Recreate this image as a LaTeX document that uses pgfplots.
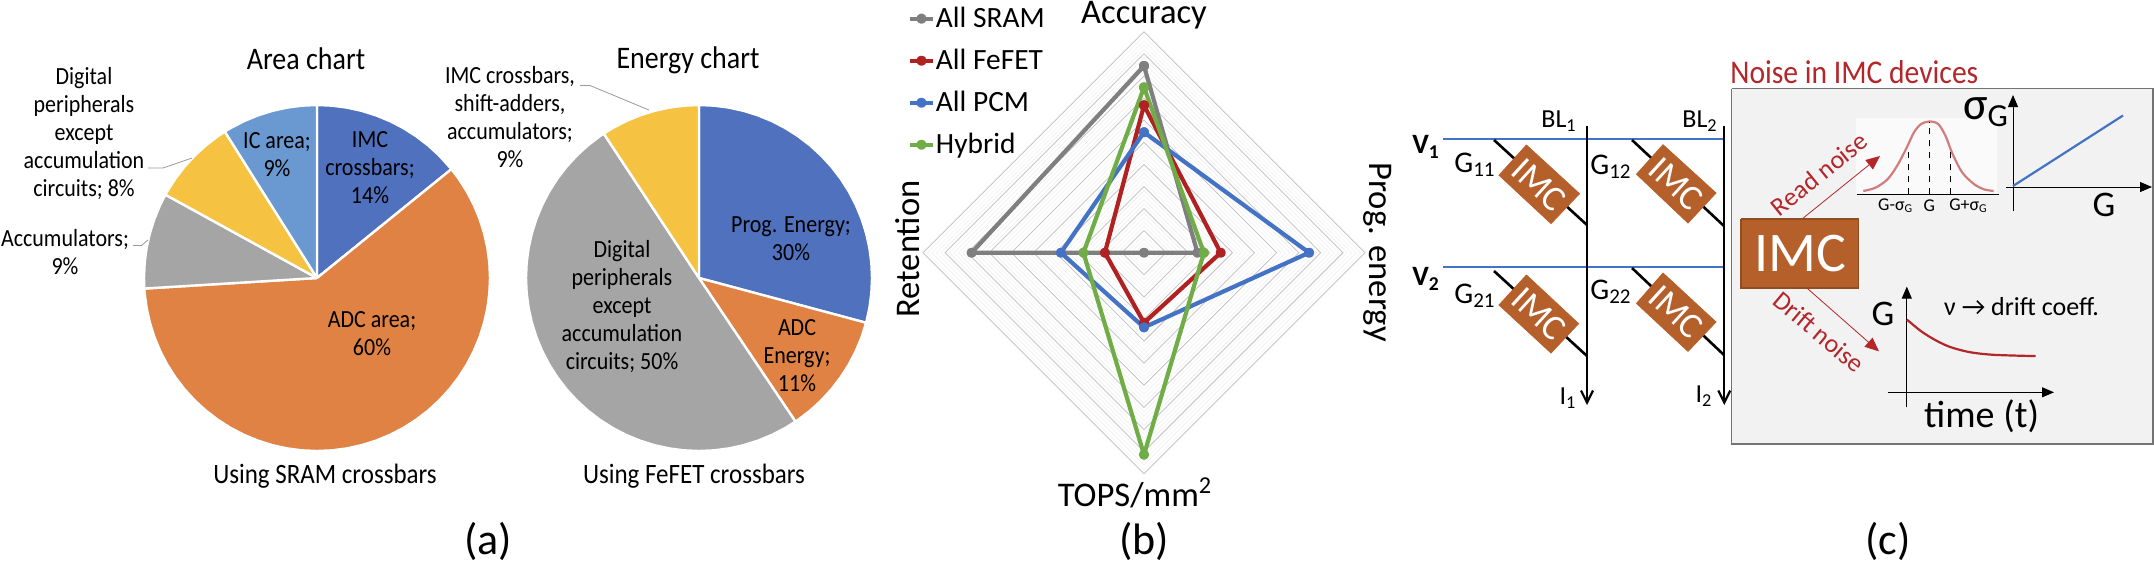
\documentclass[border=0pt]{standalone}
\usepackage{fontspec}
\setmainfont{Carlito}
\usepackage{pgfplots}
\pgfplotsset{compat=1.18}
\usetikzlibrary{arrows.meta}

% 1 pixel of the reference = 0.5pt
\definecolor{pblue}{HTML}{4F71BE}
\definecolor{porange}{HTML}{DF8244}
\definecolor{pgray}{HTML}{A5A5A5}
\definecolor{pyellow}{HTML}{F6C242}
\definecolor{plight}{HTML}{6A98D0}
\definecolor{imc}{HTML}{B5602B}
\definecolor{noisered}{HTML}{B3262A}
\definecolor{rgray}{HTML}{7F7F7F}
\definecolor{rred}{HTML}{B02222}
\definecolor{rblue}{HTML}{4472C4}
\definecolor{rgreen}{HTML}{70AD47}

\pgfplotsset{
  pieaxis/.style={scale only axis,width=173pt,height=173pt,xmin=-173,xmax=173,ymin=-173,ymax=173,
    hide axis,clip=false,anchor=center},
  slice/.style={data cs=polar,fill=#1,draw=white,line width=1.2pt,line join=round},
}
\tikzset{
  lab/.style={font=\fontsize{11}{12.5}\selectfont,align=center,inner sep=0pt,yscale=1.12},
  chart/.style={font=\fontsize{14}{16}\selectfont,inner sep=0pt,yscale=1.12},
  big/.style={font=\fontsize{22}{24}\selectfont,inner sep=0pt},
  radar/.style={font=\fontsize{17.3}{20}\selectfont,inner sep=0pt},
  diag/.style={font=\fontsize{15}{17}\selectfont,inner sep=0pt},
  imclab/.style={font=\fontsize{18}{20}\selectfont,inner sep=0pt,text=white,rotate=-42.5},
  vlab/.style={font=\bfseries\fontsize{14}{16}\selectfont,inner sep=0pt},
  small/.style={font=\fontsize{13}{15}\selectfont,inner sep=0pt},
  tiny/.style={font=\fontsize{9}{10}\selectfont,inner sep=0pt},
  axlab/.style={font=\fontsize{18}{20}\selectfont,inner sep=0pt},
}

\begin{document}
\begin{tikzpicture}
\path[use as bounding box] (0,0) rectangle (1077pt,282pt);

% Area pie, centre (317,278) px
\begin{axis}[pieaxis,at={(158.5pt,143pt)}]
\addplot[slice=pblue] coordinates {(0,0)(90,173)(85,173)(80,173)(75,173)(70,173)(65,173)(60,173)(55,173)(50,173)(45,173)(39,173)(0,0)};
\addplot[slice=porange] coordinates {(0,0)(39,173)(35,173)(30,173)(25,173)(20,173)(15,173)(10,173)(5,173)(0,173)(-5,173)(-10,173)(-15,173)(-20,173)(-25,173)(-30,173)(-35,173)(-40,173)(-45,173)(-50,173)(-55,173)(-60,173)(-65,173)(-70,173)(-75,173)(-80,173)(-85,173)(-90,173)(-95,173)(-100,173)(-105,173)(-110,173)(-115,173)(-120,173)(-125,173)(-130,173)(-135,173)(-140,173)(-145,173)(-150,173)(-155,173)(-160,173)(-165,173)(-170,173)(-175,173)(-176.5,173)(0,0)};
\addplot[slice=pgray] coordinates {(0,0)(183.5,173)(180,173)(175,173)(170,173)(165,173)(160,173)(155,173)(151.2,173)(0,0)};
\addplot[slice=pyellow] coordinates {(0,0)(151.2,173)(150,173)(145,173)(140,173)(135,173)(130,173)(125,173)(122.2,173)(0,0)};
\addplot[slice=plight] coordinates {(0,0)(122.2,173)(120,173)(115,173)(110,173)(105,173)(100,173)(95,173)(90,173)(0,0)};
\end{axis}

% Energy pie, centre (699,278) px
\begin{axis}[pieaxis,at={(349.5pt,143pt)}]
\addplot[slice=pblue] coordinates {(0,0)(90,173)(85,173)(80,173)(75,173)(70,173)(65,173)(60,173)(55,173)(50,173)(45,173)(40,173)(35,173)(30,173)(25,173)(20,173)(15,173)(10,173)(5,173)(0,173)(-5,173)(-10,173)(-15,173)(0,0)};
\addplot[slice=porange] coordinates {(0,0)(-15,173)(-20,173)(-25,173)(-30,173)(-35,173)(-40,173)(-45,173)(-50,173)(-55,173)(-56.1,173)(0,0)};
\addplot[slice=pgray] coordinates {(0,0)(-56.1,173)(-60,173)(-65,173)(-70,173)(-75,173)(-80,173)(-85,173)(-90,173)(-95,173)(-100,173)(-105,173)(-110,173)(-115,173)(-120,173)(-125,173)(-130,173)(-135,173)(-140,173)(-145,173)(-150,173)(-155,173)(-160,173)(-165,173)(-170,173)(-175,173)(-180,173)(-185,173)(-190,173)(-195,173)(-200,173)(-205,173)(-210,173)(-215,173)(-220,173)(-225,173)(-230,173)(-235,173)(-236.6,173)(0,0)};
\addplot[slice=pyellow] coordinates {(0,0)(123.4,173)(120,173)(115,173)(110,173)(105,173)(100,173)(95,173)(90,173)(0,0)};
\end{axis}

% Radar, centre (1144,252.7) px, value 10 = 221 px
\begin{axis}[scale only axis,width=221pt,height=221pt,xmin=-10,xmax=10,ymin=-10,ymax=10,
  hide axis,clip=false,anchor=center,at={(572pt,155.65pt)},
  legend style={draw=none,fill=none,at={(-0.034,1.065)},anchor=north west,inner sep=0pt,outer sep=0pt,
    font=\fontsize{14.7}{16}\selectfont,cells={anchor=west},/tikz/every odd column/.append style={column sep=-1.5pt},row sep=5.3pt},
  legend image code/.code={\draw[mark repeat=2,mark phase=2,#1] plot coordinates {(0cm,0cm)(0.2cm,0cm)(0.4cm,0cm)};}]
\pgfplotsinvokeforeach{0.2,0.4,0.6,0.8,1.2,1.4,1.6,1.8,2.2,2.4,2.6,2.8,3.2,3.4,3.6,3.8,4.2,4.4,4.6,4.8,5.2,5.4,5.6,5.8,6.2,6.4,6.6,6.8,7.2,7.4,7.6,7.8,8.2,8.4,8.6,8.8,9.2,9.4,9.6,9.8}{
  \addplot[forget plot,data cs=polar,draw=black!6,line width=0.3pt] coordinates {(90,#1)(0,#1)(-90,#1)(180,#1)(90,#1)};
}
\pgfplotsinvokeforeach{1,2,3,4,5,6,7,8,9,10}{
  \addplot[forget plot,data cs=polar,draw=black!22,line width=0.45pt] coordinates {(90,#1)(0,#1)(-90,#1)(180,#1)(90,#1)};
}
\addplot[data cs=polar,rgray,line width=2.1pt,mark=*,mark size=1.5pt,line join=round] coordinates {(90,8.45)(0,2.42)(-90,0)(180,7.8)(90,8.45)};
\addlegendentry{All SRAM}
\addplot[data cs=polar,rred,line width=2.1pt,mark=*,mark size=1.5pt,line join=round] coordinates {(90,6.67)(0,3.47)(-90,3.17)(180,1.77)(90,6.67)};
\addlegendentry{All FeFET}
\addplot[data cs=polar,rblue,line width=2.1pt,mark=*,mark size=1.5pt,line join=round] coordinates {(90,5.45)(0,7.47)(-90,3.38)(180,3.76)(90,5.45)};
\addlegendentry{All PCM}
\addplot[data cs=polar,rgreen,line width=2.1pt,mark=*,mark size=1.5pt,line join=round] coordinates {(90,7.48)(0,2.71)(-90,9.14)(180,2.74)(90,7.48)};
\addlegendentry{Hybrid}
\end{axis}

% Everything else in reference pixels
\begin{axis}[scale only axis,width=1077pt,height=282pt,xmin=0,xmax=2154,ymin=0,ymax=564,y dir=reverse,
  hide axis,clip=false,at={(0,0)},anchor=south west]

% labels of (a)
\node[chart] at (axis cs:306,58.5) {Area chart};
\node[chart] at (axis cs:688,60.6) {Energy chart};
\node[lab,font=\fontsize{12.5}{14}\selectfont] at (axis cs:325,476) {Using SRAM crossbars};
\node[lab,font=\fontsize{12.5}{14}\selectfont] at (axis cs:694,476) {Using FeFET crossbars};
\node[lab] at (axis cs:84,134) {Digital\\peripherals\\except\\accumulation\\circuits; 8\%};
\node[lab] at (axis cs:65,252) {Accumulators;\\9\%};
\node[lab] at (axis cs:370,168) {IMC\\crossbars;\\14\%};
\node[lab] at (axis cs:277,155) {IC area;\\9\%};
\node[lab] at (axis cs:372,334) {ADC area;\\60\%};
\node[lab] at (axis cs:510,117) {IMC crossbars,\\shift-adders,\\accumulators;\\9\%};
\node[lab] at (axis cs:791,239) {Prog. Energy;\\30\%};
\node[lab] at (axis cs:797,356) {ADC\\Energy;\\11\%};
\node[lab] at (axis cs:622,307) {Digital\\peripherals\\except\\accumulation\\circuits; 50\%};
\addplot[black!40,line width=0.4pt] coordinates {(148,168)(163,168)(192,158)};
\addplot[black!40,line width=0.4pt] coordinates {(133,245.5)(141.5,245.5)(148,240)};
\addplot[black!40,line width=0.4pt] coordinates {(580,85.5)(590,85.5)(649,110)};

% panel letters
\node[big] at (axis cs:488,541) {(a)};
\node[big] at (axis cs:1144,541) {(b)};
\node[big] at (axis cs:1888,541) {(c)};

% radar axis names
\node[radar] at (axis cs:1144,15) {Accuracy};
\node[radar,rotate=-90] at (axis cs:1378,252) {Prog. energy};
\node[radar] at (axis cs:1135,493) {TOPS/mm\textsuperscript{2}};
\node[radar,rotate=90] at (axis cs:908,249) {Retention};

% grey box of (c)
\addplot[fill=black!5,draw=black!55,line width=0.7pt] coordinates {(1731.6,88.7)(2153,88.7)(2153,444)(1731.6,444)(1731.6,88.7)};
\addplot[fill=black!2,draw=none] coordinates {(1856,118)(1997,118)(1997,194)(1856,194)(1856,118)};
\node[chart,font=\fontsize{14.8}{16}\selectfont,text=noisered,anchor=west] at (axis cs:1730,72) {Noise in IMC devices};

% crossbar wires
\addplot[rblue,line width=1.3pt] coordinates {(1442.5,139)(1724,139)};
\addplot[rblue,line width=1.3pt] coordinates {(1442.5,267)(1724,267)};
\addplot[black,line width=1.3pt] coordinates {(1494,140)(1587,225)};
\addplot[black,line width=1.3pt] coordinates {(1632,140)(1724,226)};
\addplot[black,line width=1.3pt] coordinates {(1494,271)(1587,356)};
\addplot[black,line width=1.3pt] coordinates {(1632,268)(1724,355)};
\addplot[black,line width=1.1pt,-{Straight Barb[length=6pt,width=6pt]}] coordinates {(1587,125.6)(1587,405)};
\addplot[black,line width=1.1pt,-{Straight Barb[length=6pt,width=6pt]}] coordinates {(1724.3,125.6)(1724.3,405)};

% IMC devices
\addplot[fill=imc,draw=imc] coordinates {(1526.4,145)(1579.5,193.7)(1551,223.6)(1499,175.2)(1526.4,145)};
\addplot[fill=imc,draw=imc] coordinates {(1663,144.7)(1716,193)(1688,223)(1636.5,174.2)(1663,144.7)};
\addplot[fill=imc,draw=imc] coordinates {(1526.4,275)(1578.6,323.6)(1551,353)(1499,305)(1526.4,275)};
\addplot[fill=imc,draw=imc] coordinates {(1663,273)(1716,322)(1688,351.4)(1636.5,303.4)(1663,273)};
\node[imclab] at (axis cs:1539,184.5) {IMC};
\node[imclab] at (axis cs:1676,184) {IMC};
\node[imclab] at (axis cs:1539,314) {IMC};
\node[imclab] at (axis cs:1676,312) {IMC};

\node[vlab] at (axis cs:1426,147) {V\textsubscript{1}};
\node[vlab] at (axis cs:1426,279) {V\textsubscript{2}};
\node[diag] at (axis cs:1475,165) {G\textsubscript{11}};
\node[diag] at (axis cs:1611,167) {G\textsubscript{12}};
\node[diag] at (axis cs:1475,296) {G\textsubscript{21}};
\node[diag] at (axis cs:1611,292) {G\textsubscript{22}};
\node[diag,font=\fontsize{13}{15}\selectfont] at (axis cs:1559,121) {BL\textsubscript{1}};
\node[diag,font=\fontsize{13}{15}\selectfont] at (axis cs:1700,121) {BL\textsubscript{2}};
\node[diag,font=\fontsize{13}{15}\selectfont] at (axis cs:1568,398) {I\textsubscript{1}};
\node[diag,font=\fontsize{13}{15}\selectfont] at (axis cs:1704,396) {I\textsubscript{2}};

% big IMC box and arrows
\addplot[noisered,line width=0.4pt,-{Triangle[length=7pt,width=6pt]}] coordinates {(1802,219)(1880,156)};
\addplot[noisered,line width=0.4pt,-{Triangle[length=7pt,width=6pt]}] coordinates {(1800,282)(1879,351.4)};
\addplot[fill=imc,draw=imc!80!black,line width=0.7pt] coordinates {(1741,219)(1858.5,219)(1858.5,288)(1741,288)(1741,219)};
\node[font=\fontsize{28}{30}\selectfont,text=white,inner sep=0pt] at (axis cs:1800,254) {IMC};
\node[small,text=noisered,rotate=39] at (axis cs:1819,174) {Read noise};
\node[small,text=noisered,rotate=-40] at (axis cs:1819,332) {Drift noise};

% gaussian sketch
\addplot[draw=black,line width=0.7pt] coordinates {(1857,194.4)(1999.4,194.4)};
\addplot[smooth,draw=noisered!60,line width=1.1pt] coordinates {(1863.3,191)(1875.4,187.7)(1887.5,179.3)(1897.1,165.8)(1906.8,147.4)(1914,132.3)(1921.2,123.9)(1929.4,121.5)(1938.1,123.9)(1945.4,135.6)(1952.6,154.1)(1962.3,172.6)(1974.3,184.3)(1984,189.3)(1993.6,191)};
\addplot[black,dashed,line width=0.6pt] coordinates {(1908.7,194.4)(1908.7,147)};
\addplot[black,dashed,line width=0.6pt] coordinates {(1929.4,194.4)(1929.4,122)};
\addplot[black,dashed,line width=0.6pt] coordinates {(1950.2,194.4)(1950.2,149)};
\node[tiny] at (axis cs:1895.7,206) {G-σ\textsubscript{G}};
\node[tiny] at (axis cs:1929.4,206) {G};
\node[tiny] at (axis cs:1968.5,206) {G+σ\textsubscript{G}};

% sigma_G versus G
\addplot[black,line width=0.5pt,-{Triangle[length=6pt,width=5pt]}] coordinates {(2013,211)(2013,95)};
\addplot[black,line width=0.5pt,-{Triangle[length=6pt,width=5pt]}] coordinates {(2006,187)(2152,187)};
\addplot[rblue,line width=1.1pt] coordinates {(2013,186)(2123,115.5)};
\node[font=\fontsize{23}{25}\selectfont,inner sep=0pt] at (axis cs:1986,112) {σ\textsubscript{G}};
\node[axlab] at (axis cs:2104,205) {G};

% drift curve
\addplot[black,line width=0.5pt,-{Triangle[length=6pt,width=5pt]}] coordinates {(1906.8,407.4)(1906.8,286.6)};
\addplot[black,line width=0.5pt,-{Triangle[length=6pt,width=5pt]}] coordinates {(1887.5,392.3)(2054,392.3)};
\addplot[smooth,noisered,line width=1.1pt] coordinates {(1906.8,319.5)(1921.2,331.3)(1935.7,340.3)(1950.2,347)(1969.5,352.1)(1993.6,354.8)(2035.6,356.1)};
\node[axlab] at (axis cs:1883,313.5) {G};
\node[small] at (axis cs:2021.6,307) {ν → drift coeff.};
\node[font=\fontsize{19}{21}\selectfont,inner sep=0pt] at (axis cs:1981.6,416.5) {time (t)};
\end{axis}
\end{tikzpicture}
\end{document}
